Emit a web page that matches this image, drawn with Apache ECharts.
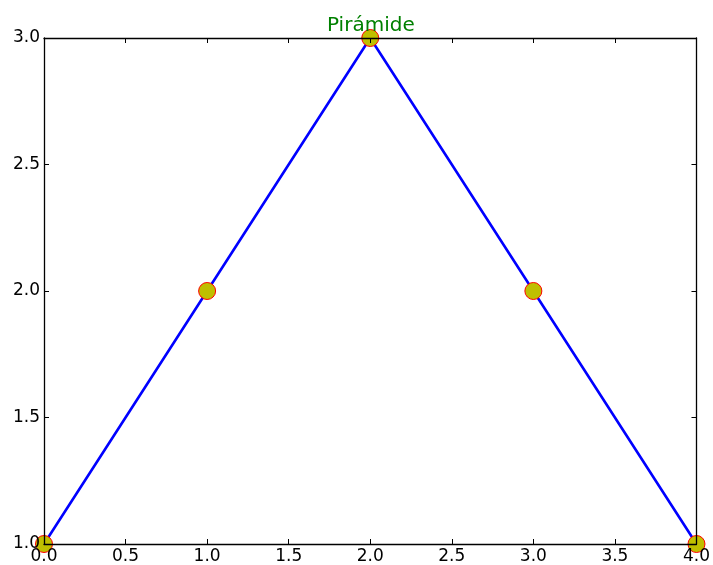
<!DOCTYPE html>
<html>
<head>
<meta charset="utf-8">
<script src="https://cdn.jsdelivr.net/npm/echarts@6/dist/echarts.min.js"></script>
<style>
  html, body { margin: 0; padding: 0; background: #fff; }
  #chart { width: 713px; height: 565px; }
</style>
</head>
<body>
<div id="chart"></div>
<script>
// Pyramid profile: five points rising to a peak and falling back
const xValues = [0, 1, 2, 3, 4];
const yValues = [1, 2, 3, 2, 1];
const titleText = 'Pirámide';

const points = xValues.map((x, i) => [x, yValues[i]]);
const FONT = 'DejaVu Sans';

const frameAxis = (pos, showLabels, min, max) => ({
  type: 'value',
  position: pos,
  min: min,
  max: max,
  interval: 0.5,
  z: 10,
  axisLine: { show: true, onZero: false, lineStyle: { color: '#000', width: 1.3 } },
  axisTick: { show: true, inside: true, length: 5, lineStyle: { color: '#000', width: 1 } },
  axisLabel: {
    show: showLabels,
    color: '#000',
    fontFamily: FONT,
    fontSize: 17,
    margin: 4,
    formatter: v => v.toFixed(1)
  },
  splitLine: { show: false }
});

const chart = echarts.init(document.getElementById('chart'), null, { renderer: 'canvas' });
chart.setOption({
  animation: false,
  backgroundColor: '#fff',
  title: {
    text: titleText,
    left: 327,
    top: 16,
    padding: 0,
    textStyle: { color: '#008000', fontFamily: FONT, fontSize: 20, fontWeight: 'normal' }
  },
  grid: { left: 44, right: 16, top: 38, bottom: 21, containLabel: false },
  xAxis: [frameAxis('bottom', true, 0, 4), frameAxis('top', false, 0, 4)],
  yAxis: [frameAxis('left', true, 1, 3), frameAxis('right', false, 1, 3)],
  series: [{
    type: 'line',
    xAxisIndex: 0,
    yAxisIndex: 0,
    data: points,
    symbol: 'circle',
    symbolSize: 17,
    clip: false,
    lineStyle: { color: '#0000ff', width: 2.6 },
    itemStyle: { color: '#bfbf00', borderColor: '#ff0000', borderWidth: 1 },
    z: 2
  }]
});
</script>
</body>
</html>
